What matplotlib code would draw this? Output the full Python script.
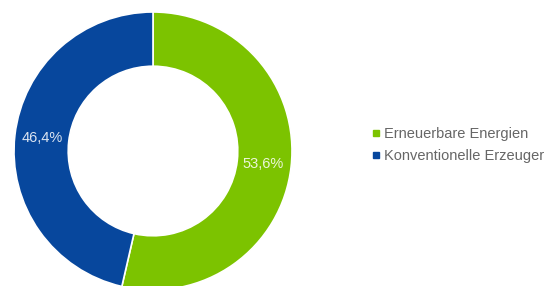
import matplotlib
matplotlib.use("Agg")
import matplotlib.pyplot as plt
from matplotlib.lines import Line2D

labels = ["Erneuerbare Energien", "Konventionelle Erzeuger"]
shares = [53.6, 46.4]
colors = ["#7CC300", "#07479D"]

plt.rcParams["font.family"] = ["Liberation Sans", "DejaVu Sans"]

fig = plt.figure(figsize=(5.52, 2.86), dpi=100)
ax = fig.add_axes([14 / 552, -4 / 286, 278 / 552, 278 / 286])

wedges, texts, autotexts = ax.pie(
    shares, colors=colors, startangle=90, counterclock=False,
    autopct=lambda p: f"{p:.1f}%".replace(".", ","), pctdistance=0.8,
    wedgeprops=dict(width=0.39, edgecolor="white", linewidth=1.2),
    textprops=dict(color="white", fontsize=10.5, alpha=0.85),
)
ax.set_aspect("equal")
ax.set_xlim(-1, 1)
ax.set_ylim(-1, 1)

handles = [Line2D([], [], marker="s", linestyle="", color=c, markersize=4) for c in colors]
fig.legend(handles, labels, loc="center left", bbox_to_anchor=(0.645, 0.493),
           frameon=False, fontsize=10.5, labelcolor="#666666", handletextpad=0.05,
           labelspacing=0.55, handlelength=1.0)

fig.savefig("out.png", dpi=100)
